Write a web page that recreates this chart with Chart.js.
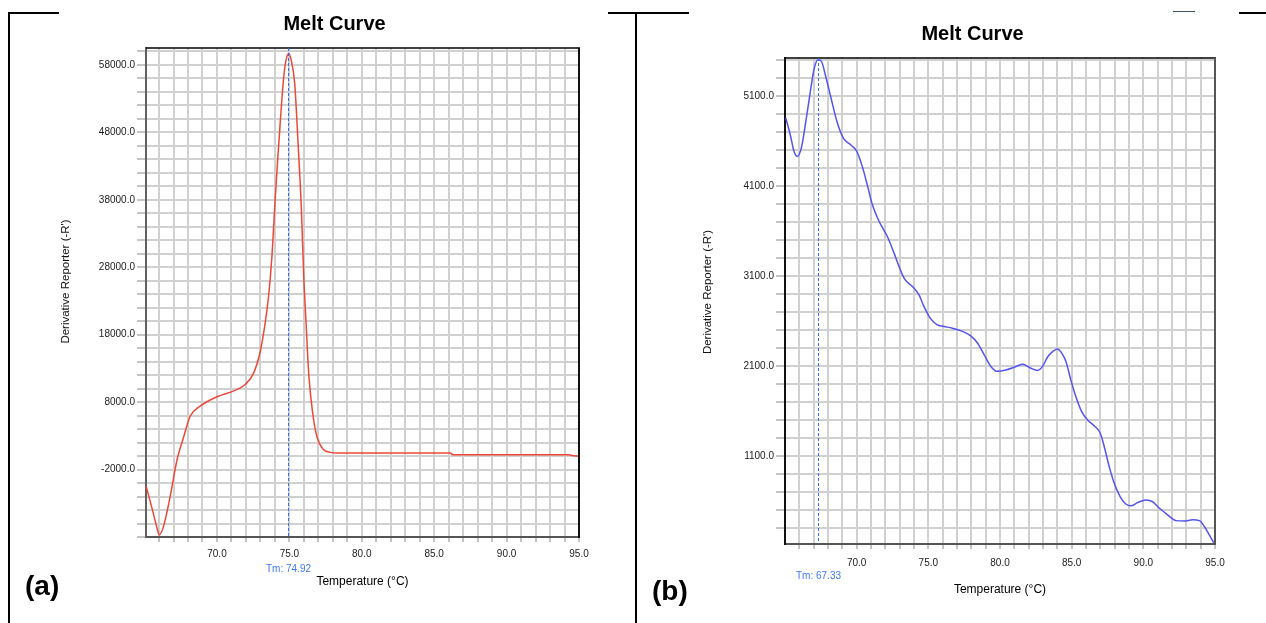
<!DOCTYPE html>
<html>
<head>
<meta charset="utf-8">
<title>Melt Curve</title>
<script src="https://cdn.jsdelivr.net/npm/chart.js@4.4.1/dist/chart.umd.min.js"></script>
<style>
  html, body { margin: 0; padding: 0; background: #fff; overflow: hidden; }
  #page { position: relative; width: 1266px; height: 623px; }
  canvas { position: absolute; top: 0; }
  .rule { position: absolute; background: #000; z-index: 2; }
  .tag { position: absolute; z-index: 2; font: bold 28px "Liberation Sans", Arial, sans-serif; line-height: 28px; color: #000; }
</style>
</head>
<body>
<div id="page">
  <canvas id="chartA" width="636" height="623" style="left:0"></canvas>
  <canvas id="chartB" width="630" height="623" style="left:636px"></canvas>

  <!-- cropped table borders from the source document -->
  <div class="rule" style="left:8px;top:12px;width:2px;height:611px"></div>
  <div class="rule" style="left:8px;top:12px;width:51px;height:2px"></div>
  <div class="rule" style="left:608px;top:12px;width:81px;height:2px"></div>
  <div class="rule" style="left:635px;top:12px;width:2px;height:611px"></div>
  <div class="rule" style="left:1173px;top:11px;width:22px;height:1px;background:#44546a"></div>
  <div class="rule" style="left:1239px;top:12px;width:27px;height:2px"></div>

  <div class="tag" style="left:25px;top:572px">(a)</div>
  <div class="tag" style="left:652px;top:577px">(b)</div>
</div>
<script>
// ---- panel (a) ----
const tempA = [65.1, 65.5, 65.84, 66.02, 66.3, 66.76, 67.23, 67.69, 68.15, 68.84, 70.0, 71.2, 71.95,
  72.53, 72.99, 73.34, 73.57, 73.8, 73.98, 74.15, 74.38, 74.61, 74.77, 74.95, 75.14, 75.37, 75.6,
  75.83, 75.99, 76.16, 76.34, 76.62, 76.92, 77.31, 77.84, 78.3, 86.1, 86.3, 94.3, 94.6, 95.0];
const derivA = [-4400, -7600, -10500, -11700, -10500, -6100, -700, 2750, 5900, 7400, 8800, 9700, 10600,
  12300, 15500, 19900, 23800, 29700, 36600, 42500, 49800, 56200, 58700, 59700, 58600, 55200, 46400,
  36600, 26800, 19400, 12100, 6200, 2750, 1050, 550, 460, 450, 200, 200, 50, 20];
const tmA = 74.92;
const xLabelsA = [70, 75, 80, 85, 90, 95];
const yLabelsA = [-2000, 8000, 18000, 28000, 38000, 48000, 58000];

// ---- panel (b) ----
const tempB = [65.05, 65.39, 65.62, 65.86, 66.14, 66.44, 66.79, 67.02, 67.3, 67.53, 67.84, 68.18, 68.65,
  69.07, 69.58, 70.0, 70.39, 70.74, 71.09, 71.56, 72.14, 72.61, 72.96, 73.35, 73.89, 74.35, 74.7, 75.12,
  75.59, 76.1, 76.68, 77.38, 77.96, 78.43, 78.89, 79.36, 79.83, 80.41, 80.99, 81.57, 82.15, 82.62, 82.97,
  83.32, 83.67, 84.01, 84.3, 84.6, 84.94, 85.29, 85.69, 86.11, 86.57, 86.99, 87.27, 87.62, 87.97, 88.39,
  88.78, 89.13, 89.6, 90.18, 90.65, 91.11, 91.69, 92.28, 92.86, 93.44, 93.91, 94.26, 94.61, 94.91];
const derivB = [4860, 4655, 4490, 4430, 4525, 4805, 5175, 5395, 5505, 5490, 5320, 5100, 4805,
  4635, 4560, 4490, 4320, 4115, 3895, 3710, 3540, 3355, 3205, 3065, 2985, 2890, 2760, 2635,
  2560, 2540, 2520, 2485, 2435, 2355, 2225, 2095, 2040, 2055, 2085, 2120, 2075, 2050, 2095,
  2200, 2260, 2290, 2245, 2150, 1945, 1760, 1595, 1500, 1435, 1355, 1205, 980, 795, 645,
  565, 545, 580, 610, 590, 520, 445, 380, 375, 390, 380, 315, 220, 135];
const tmB = 67.33;
const xLabelsB = [70, 75, 80, 85, 90, 95];
const yLabelsB = [1100, 2100, 3100, 4100, 5100];

const FONT = '"Liberation Sans", Arial, sans-serif';

function steps(from, to, step) {
  const out = [];
  for (let v = from; v <= to + 1e-9; v += step) out.push(Math.round(v * 100) / 100);
  return out;
}

// titles, Tm marker and the closed plot frame
const meltDecor = {
  id: 'meltDecor',
  afterDraw(chart, args, o) {
    const { ctx, chartArea: a } = chart;
    const x = chart.scales.x;
    ctx.save();
    ctx.strokeStyle = '#000';
    ctx.lineWidth = 1.5;
    ctx.beginPath(); ctx.moveTo(a.left, a.top); ctx.lineTo(a.right + 1, a.top); ctx.stroke();
    ctx.strokeStyle = o.rightColor;
    ctx.lineWidth = 2;
    ctx.beginPath(); ctx.moveTo(a.right, a.top); ctx.lineTo(a.right, a.bottom + 1); ctx.stroke();

    const tx = Math.round(x.getPixelForValue(o.tm)) + 0.5;
    ctx.strokeStyle = '#2f6ff0';
    ctx.lineWidth = 1;
    ctx.setLineDash([3, 2]);
    ctx.beginPath(); ctx.moveTo(tx, a.top); ctx.lineTo(tx, a.bottom); ctx.stroke();
    ctx.setLineDash([]);

    ctx.textAlign = 'center';
    ctx.textBaseline = 'middle';
    ctx.fillStyle = '#3b7af3';
    ctx.font = '10px ' + FONT;
    ctx.fillText('Tm: ' + o.tm.toFixed(2), tx, a.bottom + 32);

    ctx.fillStyle = '#000';
    ctx.font = 'bold 20px ' + FONT;
    ctx.fillText(o.title, o.titleX, o.titleY);

    ctx.translate(o.yTitleX, o.yTitleY);
    ctx.rotate(-Math.PI / 2);
    ctx.font = '11.5px ' + FONT;
    ctx.fillStyle = '#111';
    ctx.fillText(o.yTitle, 0, 0);
    ctx.restore();
  }
};

function meltChart(id, cfg) {
  return new Chart(document.getElementById(id), {
    type: 'line',
    data: {
      datasets: [{
        data: cfg.temps.map((t, i) => ({ x: t, y: cfg.values[i] })),
        borderColor: cfg.color,
        borderWidth: 1.5,
        pointRadius: 0,
        fill: false,
        cubicInterpolationMode: 'monotone'
      }]
    },
    options: {
      responsive: false,
      animation: false,
      devicePixelRatio: 1,
      layout: { padding: cfg.padding },
      plugins: {
        legend: { display: false },
        title: { display: false },
        tooltip: { enabled: false },
        meltDecor: cfg.decor
      },
      scales: {
        x: {
          type: 'linear',
          min: cfg.xMin,
          max: 95,
          afterBuildTicks: s => { s.ticks = steps(cfg.xFirst, 95, 1).map(v => ({ value: v })); },
          afterFit: s => { s.height = cfg.xHeight; },
          grid: { color: '#d0d0d0', lineWidth: 2, tickLength: 5, tickColor: '#8a8a8a', tickWidth: 1 },
          border: { color: '#555', width: 2 },
          ticks: {
            autoSkip: false, maxRotation: 0, minRotation: 0, padding: cfg.xPad,
            color: '#1a1a1a', font: { family: FONT, size: 10 },
            callback: v => cfg.xLabels.includes(v) ? v.toFixed(1) : ''
          },
          title: {
            display: true, text: 'Temperature (°C)', color: '#000',
            font: { family: FONT, size: 12 }, padding: { top: 0, bottom: cfg.xTitlePad }
          }
        },
        y: {
          type: 'linear',
          min: cfg.yMin,
          max: cfg.yMax,
          afterBuildTicks: s => { s.ticks = steps(cfg.yFirst, cfg.yMax, cfg.yStep).map(v => ({ value: v })); },
          afterFit: s => { s.width = cfg.yWidth; },
          grid: { color: '#d0d0d0', lineWidth: 2, tickLength: 9, tickColor: '#8a8a8a', tickWidth: 1 },
          border: { color: cfg.leftColor, width: 2 },
          ticks: {
            autoSkip: false, padding: 2,
            color: '#1a1a1a', font: { family: FONT, size: 10 },
            callback: v => cfg.yLabels.includes(v) ? v.toFixed(1) : ''
          }
        }
      }
    },
    plugins: [meltDecor]
  });
}

meltChart('chartA', {
  temps: tempA, values: derivA, color: 'rgb(236,72,56)',
  padding: { left: 0, top: 48, right: 57, bottom: 0 },
  xMin: 65.1, xFirst: 66, xLabels: xLabelsA, xHeight: 86, xPad: 6, xTitlePad: 34,
  yMin: -12000, yMax: 60500, yFirst: -12000, yStep: 2000, yLabels: yLabelsA, yWidth: 146,
  leftColor: '#606060',
  decor: { tm: tmA, title: 'Melt Curve', titleX: 334.5, titleY: 24,
           yTitle: "Derivative Reporter (-R')", yTitleX: 66, yTitleY: 281.5, rightColor: '#111' }
});

meltChart('chartB', {
  temps: tempB, values: derivB, color: 'rgb(84,84,240)',
  padding: { left: 0, top: 58, right: 51, bottom: 0 },
  xMin: 65, xFirst: 66, xLabels: xLabelsB, xHeight: 79, xPad: 8, xTitlePad: 26.5,
  yMin: 120, yMax: 5525, yFirst: 300, yStep: 200, yLabels: yLabelsB, yWidth: 149,
  leftColor: '#111',
  decor: { tm: tmB, title: 'Melt Curve', titleX: 336.5, titleY: 34,
           yTitle: "Derivative Reporter (-R')", yTitleX: 72, yTitleY: 292, rightColor: '#555' }
});
</script>
</body>
</html>
